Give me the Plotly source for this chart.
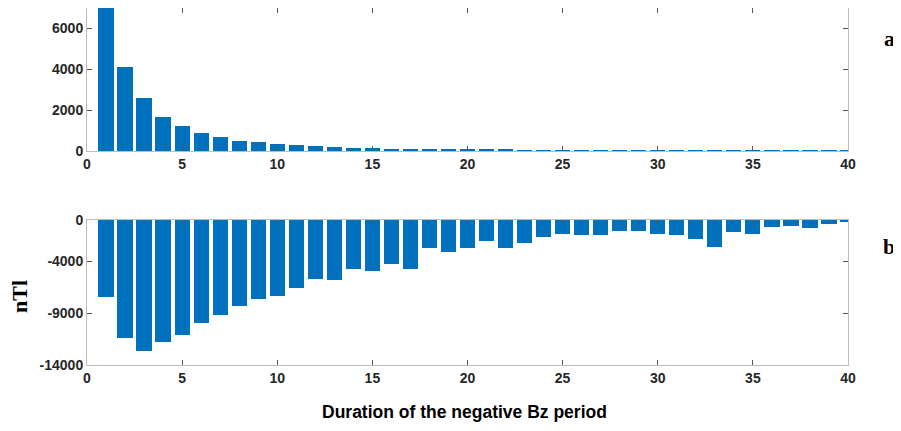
import plotly.graph_objects as go

durations = list(range(1, 41))
top_values = [7600, 4120, 2580, 1680, 1200, 870, 670, 510, 430, 360,
              280, 230, 190, 150, 140, 110, 95, 85, 75, 70,
              60, 55, 45, 40, 38, 34, 32, 30, 28, 26,
              24, 24, 22, 20, 18, 16, 15, 14, 12, 10]
bottom_values = [-7400, -11400, -12650, -11800, -11150, -9950, -9200, -8330, -7600, -7370,
                 -6560, -5700, -5760, -4730, -4920, -4220, -4730, -2730, -3120, -2700,
                 -2000, -2700, -2220, -1600, -1310, -1480, -1410, -1030, -1090, -1310,
                 -1450, -1840, -2600, -1120, -1310, -710, -580, -800, -390, -190]

x_ticks = [0, 5, 10, 15, 20, 25, 30, 35, 40]
top_ticks = [0, 2000, 4000, 6000]
bottom_ticks = [-14000, -9000, -4000, 0]

bar_color = "#0072BD"
axis_color = "#BDBDBD"
tick_font = dict(family="Liberation Sans, Arial", size=14, color="#262626", weight="bold")

fig = go.Figure()
fig.add_trace(go.Bar(x=durations, y=top_values, width=0.8, marker=dict(color=bar_color, line=dict(width=0)),
                     xaxis="x", yaxis="y", showlegend=False))
fig.add_trace(go.Bar(x=durations, y=bottom_values, width=0.8, marker=dict(color=bar_color, line=dict(width=0)),
                     xaxis="x2", yaxis="y2", showlegend=False))

common_x = dict(range=[0, 40], tickvals=x_ticks, ticktext=[str(v) for v in x_ticks],
                ticks="inside", ticklen=5, tickcolor="#555555",
                showline=True, linecolor=axis_color, linewidth=1, mirror="allticks",
                showgrid=False, zeroline=False, tickfont=tick_font)
common_y = dict(ticks="inside", ticklen=5, tickcolor="#555555", showline=True, linecolor=axis_color,
                linewidth=1, mirror="allticks", showgrid=False, zeroline=False, tickfont=tick_font)

# page body has an 8px default margin; target coordinates are screenshot pixels
OFF = 8
W, H = 901 - OFF, 431 - OFF
plot_left, plot_right, plot_top, plot_bottom = 87, 848, 8, 365
l = plot_left - OFF
r = (W + OFF) - plot_right
t = plot_top - OFF
b = (H + OFF) - plot_bottom
ph = H - t - b
pw = W - l - r


def px_x(x):
    return (x - plot_left) / pw


def px_y(y):
    return (plot_bottom - y) / ph


label_font = dict(family="Liberation Serif, Times New Roman", size=22, color="black", weight="bold")

fig.update_layout(
    width=W, height=H,
    margin=dict(l=l, r=r, t=t, b=b, autoexpand=False),
    paper_bgcolor="white", plot_bgcolor="white",
    bargap=0,
    xaxis=dict(domain=[0, 1], anchor="y", **common_x),
    yaxis=dict(domain=[px_y(151), 1], range=[0, 7000], tickvals=top_ticks,
               ticktext=[str(v) for v in top_ticks], anchor="x", **common_y),
    xaxis2=dict(domain=[0, 1], anchor="y2", **common_x),
    yaxis2=dict(domain=[0, px_y(220)], range=[-14000, 0], tickvals=bottom_ticks,
                ticktext=[str(v) for v in bottom_ticks], anchor="x2", **common_y),
    annotations=[
        dict(text="Duration of the negative Bz period", x=px_x(464), y=px_y(412), xref="paper", yref="paper",
             showarrow=False, font=dict(family="Liberation Sans, Arial", size=17.5, color="black", weight="bold"),
             xanchor="center", yanchor="middle"),
        dict(text="nTl", x=px_x(19), y=px_y(297), xref="paper", yref="paper", showarrow=False, textangle=-90,
             font=label_font, xanchor="center", yanchor="middle"),
        dict(text="a", x=px_x(890), y=px_y(38), xref="paper", yref="paper", showarrow=False,
             font=label_font, xanchor="center", yanchor="middle"),
        dict(text="b", x=px_x(889), y=px_y(246), xref="paper", yref="paper", showarrow=False,
             font=label_font, xanchor="center", yanchor="middle"),
    ],
)

fig.write_html("out.html")
